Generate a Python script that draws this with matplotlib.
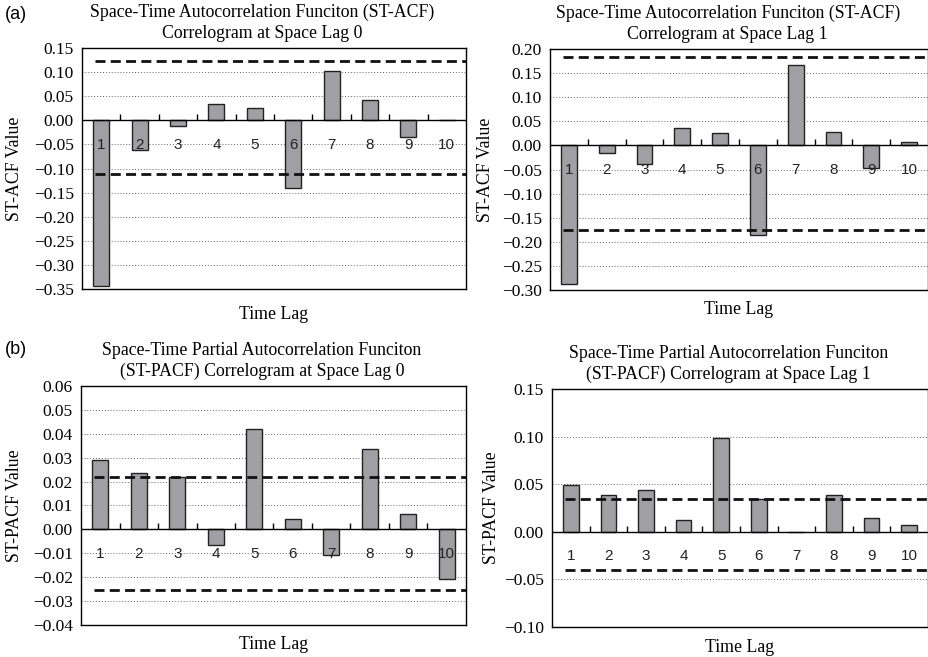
import numpy as np
import matplotlib
matplotlib.use("Agg")
import matplotlib.pyplot as plt
from matplotlib.ticker import FixedLocator, FuncFormatter

lags = list(range(1, 11))

acf_lag0 = [-0.344, -0.061, -0.012, 0.033, 0.026, -0.140, 0.102, 0.043, -0.035, 0.0]
acf_lag0_bounds = [0.123, -0.111]
acf_lag1 = [-0.287, -0.016, -0.039, 0.036, 0.026, -0.185, 0.167, 0.028, -0.047, 0.008]
acf_lag1_bounds = [0.183, -0.175]

pacf_lag0 = [0.0291, 0.0234, 0.0220, -0.0067, 0.0418, 0.0042, -0.0106, 0.0336, 0.0066, -0.0208]
pacf_lag0_bounds = [0.0220, -0.0252]
pacf_lag1 = [0.049, 0.039, 0.044, 0.012, 0.099, 0.034, 0.0, 0.039, 0.014, 0.007]
pacf_lag1_bounds = [0.0347, -0.040]

titles = [
    "Space-Time Autocorrelation Funciton (ST-ACF)\nCorrelogram at Space Lag 0",
    "Space-Time Autocorrelation Funciton (ST-ACF)\nCorrelogram at Space Lag 1",
    "Space-Time Partial Autocorrelation Funciton\n(ST-PACF) Correlogram at Space Lag 0",
    "Space-Time Partial Autocorrelation Funciton\n(ST-PACF) Correlogram at Space Lag 1",
]
ylabels = ["ST-ACF Value", "ST-ACF Value", "ST-PACF Value", "ST-PACF Value"]
yticks = [
    np.arange(-0.35, 0.1501, 0.05),
    np.arange(-0.30, 0.2001, 0.05),
    np.arange(-0.04, 0.0601, 0.01),
    np.arange(-0.10, 0.1501, 0.05),
]
series = [acf_lag0, acf_lag1, pacf_lag0, pacf_lag1]
bounds = [acf_lag0_bounds, acf_lag1_bounds, pacf_lag0_bounds, pacf_lag1_bounds]

serif = "Liberation Serif"
sans = "Liberation Sans"

fig = plt.figure(figsize=(9.29, 6.57), dpi=100)
rects = [
    [0.0883, 0.5601, 0.4133, 0.3668],
    [0.5920, 0.5586, 0.4069, 0.3668],
    [0.0872, 0.0487, 0.4144, 0.3638],
    [0.5942, 0.0457, 0.4047, 0.3623],
]
ylab_x = [15, 485, 15, 492]
xlab_pad = [12, 8, 8, 9]

for i in range(4):
    ax = fig.add_axes(rects[i])
    vals = series[i]
    ticks = yticks[i]
    ax.set_xlim(0.5, 10.5)
    ax.set_ylim(ticks[0], ticks[-1])

    for t in ticks[1:-1]:
        ax.axhline(t, color="#666666", lw=0.7, ls=(0, (1, 2)), zorder=0)

    ax.bar(lags, vals, width=0.42, color="#a0a0a4", edgecolor="#222222",
           linewidth=1.0, zorder=2)
    ax.axhline(0, color="black", lw=1.0, zorder=3)
    ax.plot([c + 0.5 for c in lags[:-1]], [0] * 9, ls="none", marker=2,
            markersize=4, color="black", mew=1.0, zorder=3)
    for b in bounds[i]:
        ax.hlines(b, 0.85, 10.5, colors="#111111", lw=2.0,
                  linestyles=(0, (3.6, 1.9)), zorder=4)

    for c in lags:
        ax.annotate(str(c), xy=(c, 0), xytext=(0, -17.5),
                    textcoords="offset points", ha="center", va="center",
                    fontsize=11, family=sans, color="#222222", zorder=5)

    ax.set_xticks([])
    ax.yaxis.set_major_locator(FixedLocator(ticks))
    ax.yaxis.set_major_formatter(
        FuncFormatter(lambda v, p: f"{v:.2f}".replace("-", "\u2212")
                      if abs(v) > 1e-9 else "0.00"))
    ax.tick_params(axis="y", length=0, pad=6, labelsize=12.5)
    for lab in ax.get_yticklabels():
        lab.set_family(serif)
    for s in ax.spines.values():
        s.set_linewidth(1.0)
        s.set_color("black")

    ax.set_title(titles[i], family=serif, fontsize=12.8, x=0.47, pad=7,
                 linespacing=1.32)
    ax.set_xlabel("Time Lag", family=serif, fontsize=12.8, labelpad=xlab_pad[i])
    ax.set_ylabel(ylabels[i], family=serif, fontsize=12.8)
    ax.yaxis.label.set_verticalalignment("center")
    ax.yaxis.set_label_coords((ylab_x[i] - rects[i][0] * 929) / (rects[i][2] * 929), 0.5)

fig.text(0.005, 0.978, "(a)", family=sans, fontsize=13, va="center")
fig.text(0.005, 0.468, "(b)", family=sans, fontsize=13, va="center")

fig.savefig("out.png", dpi=100)
